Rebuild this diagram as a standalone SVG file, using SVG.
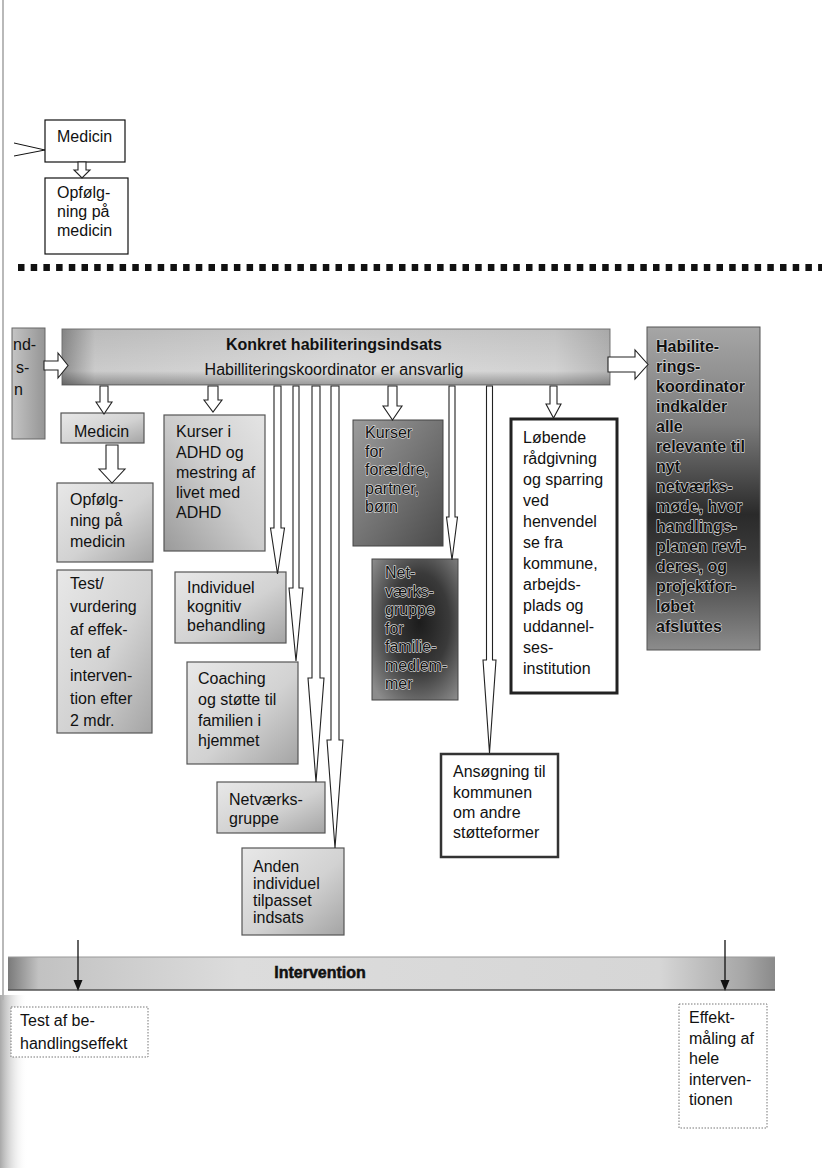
<svg xmlns="http://www.w3.org/2000/svg" width="825" height="1168" viewBox="0 0 825 1168">
<defs>
<style>
.t{font-family:"Liberation Sans",Arial,sans-serif;font-size:16px;fill:#111}
.bd{font-weight:bold}
.dk{fill:#111;stroke:#d6d6d6;stroke-width:1.3px;paint-order:stroke;stroke-linejoin:round}
.lbox{stroke:#555;stroke-width:1.2}
.ba{fill:#fff;stroke:#222;stroke-width:1.1;stroke-linejoin:miter}
.dot{fill:#fff;stroke:#777;stroke-width:1;stroke-dasharray:1.5 1.5}
</style>
<linearGradient id="gL" x1="0" y1="0" x2="1" y2="1">
<stop offset="0" stop-color="#e8e8e8"/><stop offset="0.55" stop-color="#d2d2d2"/><stop offset="1" stop-color="#a4a4a4"/>
</linearGradient>
<linearGradient id="gLr" x1="1" y1="0" x2="0" y2="1">
<stop offset="0" stop-color="#e4e4e4"/><stop offset="0.5" stop-color="#cccccc"/><stop offset="1" stop-color="#9a9a9a"/>
</linearGradient>
<linearGradient id="gH" x1="0" y1="0" x2="1" y2="0">
<stop offset="0" stop-color="#8e8e8e"/><stop offset="0.06" stop-color="#cbcbcb"/><stop offset="0.5" stop-color="#dcdcdc"/><stop offset="0.9" stop-color="#d2d2d2"/><stop offset="1" stop-color="#b6b6b6"/>
</linearGradient>
<linearGradient id="gHv" x1="0" y1="0" x2="0" y2="1">
<stop offset="0" stop-color="#000" stop-opacity="0.08"/><stop offset="0.75" stop-color="#000" stop-opacity="0"/><stop offset="1" stop-color="#000" stop-opacity="0.3"/>
</linearGradient>
<linearGradient id="gR" x1="0" y1="0" x2="0" y2="1">
<stop offset="0" stop-color="#a6a6a6"/><stop offset="0.3" stop-color="#7c7c7c"/><stop offset="0.58" stop-color="#2a2a2a"/><stop offset="0.72" stop-color="#3c3c3c"/><stop offset="1" stop-color="#8c8c8c"/>
</linearGradient>
<linearGradient id="gD1" x1="0" y1="0" x2="1" y2="1">
<stop offset="0" stop-color="#9c9c9c"/><stop offset="0.6" stop-color="#6c6c6c"/><stop offset="1" stop-color="#4a4a4a"/>
</linearGradient>
<radialGradient id="gD2" cx="0.55" cy="0.45" r="0.7">
<stop offset="0" stop-color="#1c1c1c"/><stop offset="0.5" stop-color="#3a3a3a"/><stop offset="1" stop-color="#8c8c8c"/>
</radialGradient>
<linearGradient id="gLB" x1="0" y1="0" x2="1" y2="0">
<stop offset="0" stop-color="#c4c4c4"/><stop offset="1" stop-color="#959595"/>
</linearGradient>
<linearGradient id="gBar" x1="0" y1="0" x2="1" y2="0">
<stop offset="0" stop-color="#7a7a7a"/><stop offset="0.04" stop-color="#c2c2c2"/><stop offset="0.3" stop-color="#dcdcdc"/><stop offset="0.85" stop-color="#d6d6d6"/><stop offset="0.96" stop-color="#a6a6a6"/><stop offset="1" stop-color="#8a8a8a"/>
</linearGradient>
<linearGradient id="gEdge" x1="0" y1="0" x2="1" y2="0">
<stop offset="0" stop-color="#a8a8a8"/><stop offset="1" stop-color="#fff" stop-opacity="0"/>
</linearGradient>
<clipPath id="cpL"><rect x="12" y="328" width="34" height="112"/></clipPath>
</defs>
<rect width="825" height="1168" fill="#fff"/>
<line x1="3" y1="0" x2="3" y2="1000" stroke="#8a8a8a" stroke-width="1.2"/>
<rect x="0" y="995" width="28" height="173" fill="url(#gEdge)"/>
<line x1="18" y1="267.5" x2="822" y2="267.5" stroke="#111" stroke-width="7" stroke-dasharray="6.5 6.2"/>

<g id="medicin-top">
<rect x="45" y="120" width="80" height="42" fill="#fff" stroke="#111" stroke-width="1.2"/>
<text class="t" x="57" y="142">Medicin</text>
</g>
<g id="opfolgning-top">
<rect x="45" y="178" width="83" height="76" fill="#fff" stroke="#111" stroke-width="1.2"/>
<text class="t" x="57" y="198">Opfølg-</text>
<text class="t" x="57" y="217">ning på</text>
<text class="t" x="57" y="236">medicin</text>
</g>

<g id="left-partial">
<rect x="12" y="328" width="33" height="111" fill="url(#gLB)" stroke="#666" stroke-width="1"/>
<g clip-path="url(#cpL)">
<text class="t" x="13" y="350">nd-</text>
<text class="t" x="16" y="373">s-</text>
<text class="t" x="14" y="395">n</text>
</g>
</g>

<g id="header">
<rect x="62" y="329" width="548" height="56" fill="url(#gH)" stroke="#777" stroke-width="1"/>
<rect x="62" y="329" width="548" height="56" fill="url(#gHv)"/>
<text class="t bd" x="334" y="350" font-size="17" text-anchor="middle">Konkret habiliteringsindsats</text>
<text class="t" x="334" y="375" font-size="15" text-anchor="middle">Habilliteringskoordinator er ansvarlig</text>
</g>

<g id="right-box">
<rect x="647" y="327" width="113" height="323" fill="url(#gR)" stroke="#555" stroke-width="1"/>
<g class="t bd dk">
<text x="656" y="352">Habilite-</text>
<text x="656" y="372">rings-</text>
<text x="656" y="392">koordinator</text>
<text x="656" y="412">indkalder</text>
<text x="656" y="432">alle</text>
<text x="656" y="452">relevante til</text>
<text x="656" y="472">nyt</text>
<text x="656" y="492">netværks-</text>
<text x="656" y="512">møde, hvor</text>
<text x="656" y="532">handlings-</text>
<text x="656" y="552">planen revi-</text>
<text x="656" y="572">deres, og</text>
<text x="656" y="592">projektfor-</text>
<text x="656" y="612">løbet</text>
<text x="656" y="632">afsluttes</text>
</g>
</g>

<g id="medicin">
<rect x="61" y="413" width="83" height="30" fill="url(#gL)" class="lbox"/>
<text class="t" x="74" y="437" font-size="18">Medicin</text>
</g>
<g id="opfolgning">
<rect x="57" y="483" width="96" height="79" fill="url(#gL)" class="lbox"/>
<text class="t" x="70" y="505" font-size="19">Opfølg-</text>
<text class="t" x="70" y="526" font-size="19">ning på</text>
<text class="t" x="70" y="547" font-size="19">medicin</text>
</g>
<g id="test-vurdering">
<rect x="57" y="570" width="95" height="163" fill="url(#gL)" class="lbox"/>
<g class="t" font-size="19">
<text x="70" y="589">Test/</text>
<text x="70" y="612">vurdering</text>
<text x="70" y="635">af effek-</text>
<text x="70" y="658">ten af</text>
<text x="70" y="681">interven-</text>
<text x="70" y="704">tion efter</text>
<text x="70" y="726">2 mdr.</text>
</g>
</g>
<g id="kurser-adhd">
<rect x="164" y="415" width="101" height="136" fill="url(#gLr)" class="lbox"/>
<text class="t" x="176" y="437">Kurser i</text>
<text class="t" x="176" y="458">ADHD og</text>
<text class="t" x="176" y="478">mestring af</text>
<text class="t" x="176" y="498">livet med</text>
<text class="t" x="176" y="518">ADHD</text>
</g>
<g id="individuel-kognitiv">
<rect x="175" y="572" width="111" height="71" fill="url(#gL)" class="lbox"/>
<text class="t" x="187" y="593">Individuel</text>
<text class="t" x="187" y="612">kognitiv</text>
<text class="t" x="187" y="631">behandling</text>
</g>
<g id="coaching">
<rect x="187" y="662" width="111" height="102" fill="url(#gL)" class="lbox"/>
<text class="t" x="198" y="684" font-size="18">Coaching</text>
<text class="t" x="198" y="705" font-size="18">og støtte til</text>
<text class="t" x="198" y="726" font-size="18">familien i</text>
<text class="t" x="198" y="746" font-size="18">hjemmet</text>
</g>
<g id="netvaerksgruppe">
<rect x="217" y="782" width="108" height="51" fill="url(#gL)" class="lbox"/>
<text class="t" x="229" y="805" font-size="17">Netværks-</text>
<text class="t" x="229" y="824" font-size="17">gruppe</text>
</g>
<g id="anden-indsats">
<rect x="242" y="848" width="102" height="87" fill="url(#gL)" class="lbox"/>
<g class="t" font-size="15.5">
<text x="253" y="872">Anden</text>
<text x="253" y="889">individuel</text>
<text x="253" y="906">tilpasset</text>
<text x="253" y="923">indsats</text>
</g>
</g>
<g id="kurser-foraeldre">
<rect x="353" y="420" width="90" height="126" fill="url(#gD1)" stroke="#444" stroke-width="1"/>
<g class="t dk">
<text x="365" y="438">Kurser</text>
<text x="365" y="456.5">for</text>
<text x="365" y="475">forældre,</text>
<text x="365" y="493.5">partner,</text>
<text x="365" y="512">børn</text>
</g>
</g>
<g id="netvaerk-familie">
<rect x="372" y="559" width="86" height="141" fill="url(#gD2)" stroke="#444" stroke-width="1"/>
<g class="t dk">
<text x="385" y="578">Net-</text>
<text x="385" y="596.5">værks-</text>
<text x="385" y="615">gruppe</text>
<text x="385" y="633.5">for</text>
<text x="385" y="652">familie-</text>
<text x="385" y="670.5">medlem-</text>
<text x="385" y="689">mer</text>
</g>
</g>
<g id="lobende-raadgivning">
<rect x="511" y="419" width="106" height="274" fill="#fff" stroke="#222" stroke-width="3"/>
<g class="t">
<text x="523" y="443">Løbende</text>
<text x="523" y="464">rådgivning</text>
<text x="523" y="485">og sparring</text>
<text x="523" y="506">ved</text>
<text x="523" y="527">henvendel</text>
<text x="523" y="548">se fra</text>
<text x="523" y="569">kommune,</text>
<text x="523" y="590">arbejds-</text>
<text x="523" y="611">plads og</text>
<text x="523" y="632">uddannel-</text>
<text x="523" y="653">ses-</text>
<text x="523" y="674">institution</text>
</g>
</g>
<g id="ansogning">
<rect x="441" y="754" width="117" height="103" fill="#fff" stroke="#333" stroke-width="2.5"/>
<g class="t" font-size="15.5">
<text x="453" y="777">Ansøgning til</text>
<text x="453" y="798">kommunen</text>
<text x="453" y="818">om andre</text>
<text x="453" y="838">støtteformer</text>
</g>
</g>

<g id="intervention-bar">
<rect x="8" y="957" width="767" height="33" fill="url(#gBar)"/>
<line x1="8" y1="957" x2="775" y2="957" stroke="#999" stroke-width="1"/>
<line x1="8" y1="990" x2="775" y2="990" stroke="#555" stroke-width="1.5"/>
<text class="t bd" x="320" y="978" font-size="15" text-anchor="middle" stroke="#111" stroke-width="0.5">Intervention</text>
</g>
<g id="test-behandlingseffekt">
<rect x="11" y="1007" width="137" height="50" class="dot"/>
<text class="t" x="20" y="1026">Test af be-</text>
<text class="t" x="20" y="1049">handlingseffekt</text>
</g>
<g id="effektmaaling">
<rect x="679" y="1004" width="88" height="124" class="dot"/>
<g class="t" font-size="15.5">
<text x="689" y="1023">Effekt-</text>
<text x="689" y="1044">måling af</text>
<text x="689" y="1064">hele</text>
<text x="689" y="1085">interven-</text>
<text x="689" y="1105">tionen</text>
</g>
</g>

<g id="connectors">
<polyline points="14,143 45,150 14,156" fill="none" stroke="#111" stroke-width="1"/>
<polygon class="ba" points="78,162 86,162 86,170 90,170 82,178 74,170 78,170"/>
<polygon class="ba" points="44,361 58,361 58,353 68,365.5 58,378 58,370 44,370"/>
<polygon class="ba" points="608,357 635,357 635,350 648,364.5 635,379 635,372 608,372"/>
<polygon class="ba" points="100,386 108,386 108,402 112,402 104,414 96,402 100,402"/>
<polygon class="ba" points="208,386 218,386 218,400 222,400 213,412 204,400 208,400"/>
<polygon class="ba" points="388,386 397,386 397,406 402,406 392.5,420 383,406 388,406"/>
<polygon class="ba" points="550,386 557,386 557,404 561,404 553.5,418 546,404 550,404"/>
<polygon class="ba" points="106,445 118,445 118,469 125,469 112,483 99,469 106,469"/>
<polygon class="ba" points="274,386 281,386 281,528 284.5,528 277.5,574 270.5,528 274,528"/>
<polygon class="ba" points="293,386 299,386 299,588 303,588 296,661 289,588 293,588"/>
<polygon class="ba" points="312,386 320,386 320,678 324,678 316,782 308,678 312,678"/>
<polygon class="ba" points="331,386 339,386 339,740 343,740 335,848 327,740 331,740"/>
<polygon class="ba" points="449,386 455,386 455,517 457.5,517 452,560 446.5,517 449,517"/>
<polygon class="ba" points="486.5,386 492.5,386 492.5,660 496,660 489.5,753 483,660 486.5,660"/>
<line x1="78" y1="940" x2="78" y2="982" stroke="#111" stroke-width="1.3"/>
<polygon points="73.5,980 82.5,980 78,991" fill="#111"/>
<line x1="725" y1="940" x2="725" y2="982" stroke="#111" stroke-width="1.3"/>
<polygon points="720.5,980 729.5,980 725,991" fill="#111"/>
</g>
</svg>
